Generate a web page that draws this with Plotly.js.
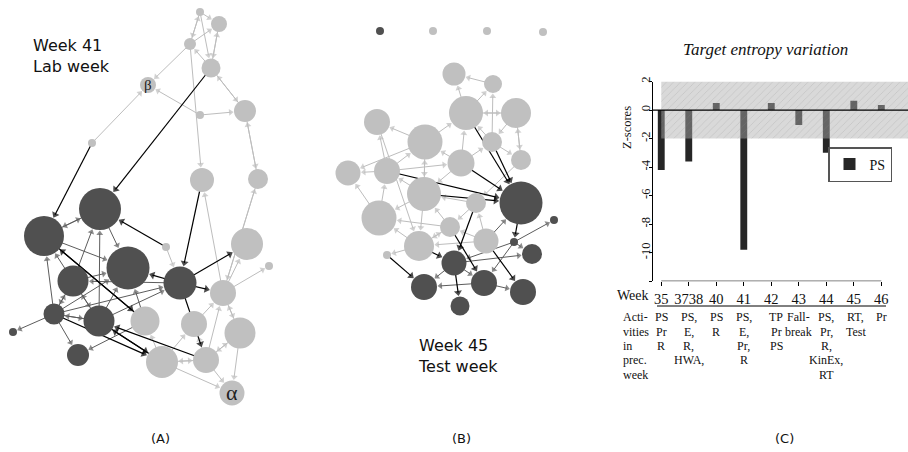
<!DOCTYPE html>
<html><head><meta charset="utf-8">
<script src="https://cdn.plot.ly/plotly-3.0.1.min.js"></script>
<style>html,body{margin:0;padding:0;background:#fff}#chart{width:908px;height:452px}</style>
</head><body><div id="chart"></div>
<script>
// ---------- Network A (week 41, lab week) ----------
const nodeNameA = ['a1','a2','a3','a4','beta','a6','a7','a8','a9','a10','a11','a12','a13','a14','a15','a16','a17','a18','a19','a20','a21','a22','a23','a24','a25','a26','a27','a28','alpha'];
const nodeXA    = [200,219,190,211,148,200,245,92,202,258,100,44,128,73,180,166,247,269,223,54,99,145,194,240,13,78,162,206,232];
const nodeYA    = [12,24,44,68,85,115,111,143,180,179,209,236,268,281,283,247,244,266,293,314,321,321,324,333,332,355,362,360,393];
const nodeRA    = [4,8,6,9.5,8,4,11,4,12,10,21,20,21.5,15.5,16.5,4,16,4,13,10.5,15.5,14.5,13,15.5,4,11,16,13,12.5];
const nodeGroupA= ['l','l','l','l','l','l','l','l','l','l','d','d','d','d','d','l','l','l','l','d','d','l','l','l','d','d','l','l','l'];

const edgeFromA = ['a1','a1','a3','a1','a2','a4','a3','a3','a4','a6','a6','a8','a7','a19','a19','a19','a23','a28','a19','a27','a27','a28','a28','a27','a28','a24','a19','a16','a28',
                   'a8','a4','a12','a16','a9','a15','a15','a15','a15','a20','a28','a27',
                   'a12','a12','a14','a21','a11','a20','a14','a20','a20','a20','a20','a22','a14','a20','a22','a15','a14','a21','a20','a21'];
const edgeToA   = ['a3','a2','a2','a4','a4','a3','beta','a9','a7','beta','a7','beta','a10','a10','a18','a17','a19','a19','a24','a23','a22','a27','a24','alpha','alpha','alpha','a9','a15','a23',
                   'a12','a11','a22','a11','a15','a17','a19','a13','a28','a27','a21','a21',
                   'a11','a13','a11','a11','a13','a12','a12','a14','a25','a21','a26','a26','a21','a13','a13','a14','a13','a15','a15','a13'];
const edgeKindA = ['l','l','l','l','l','l','l','l','l','l','l','l','l','l','l','l','l','l','l','l','l','l','l','l','l','l','l','l','l',
                   'k','k','k','k','k','k','k','k','k','k','k','k',
                   'g','g','g','g','g','g','g','g','g','g','g','g','g','g','g','g','g','g','g','g'];
const edgeBothA = [1,0,0,0,1,0,0,0,1,0,0,0,1,1,0,0,0,0,1,0,0,1,1,0,0,0,0,0,0,
                   0,0,1,0,0,0,0,0,0,0,0,1,
                   1,0,0,0,0,0,0,1,0,1,0,0,1,0,0,0,0,0,0,0];

// ---------- Network B (week 45, test week) ----------
const nodeNameB = ['t1','t2','t3','t4','b1','b2','b3','b4','b5','b6','b7','b8','b9','b10','b11','b12','b13','b14','b15','b16','b17','b18','b19','b20','b22','b23','b24','b25','b26','b27','b28'];
const nodeXB    = [380,433,487,543,454,493,377,466,516,425,492,461,521,348,387,424,476,521,554,379,450,419,486,514,387,454,532,424,484,523,460];
const nodeYB    = [31,31,31,32,74,84,122,113,113,142,142,163,160,173,171,194,203,203,220,218,227,246,241,242,255,263,254,287,283,292,306];
const nodeRB    = [4,4,4,4,11.5,9,13,17,15,17.5,10,13.5,10,12.5,13,17,10,21.5,4,17.5,10,15,12.5,4,4,12.5,10,13,13,13,9.5];
const nodeGroupB= ['d','l','l','l','l','l','l','l','l','l','l','l','l','l','l','l','l','d','d','l','l','l','l','d','l','d','d','d','d','d','d'];

const edgeFromB = ['b2','b4','b4','b4','b7','b6','b6','b11','b11','b6','b5','b7','b8','b6','b8','b11','b12','b13','b7','b8','b9','b16','b12','b17','b17','b18','b18','b17','b19','b13','b12','b3','b16','b19','b8','b5','b11','b19',
                   'b4','b7','b8','b11','b12','b22','b18','b17','b13','b19','b23','b14',
                   'b19','b20','b20','b20','b20','b23','b23','b26','b26','b23'];
const edgeToB   = ['b1','b1','b2','b5','b2','b3','b4','b3','b10','b10','b9','b4','b4','b12','b6','b6','b11','b12','b9','b7','b13','b10','b16','b12','b16','b16','b22','b18','b18','b17','b18','b18','b11','b13','b12','b7','b8','b17',
                   'b14','b14','b14','b14','b14','b25','b23','b26','b23','b27','b28','b20',
                   'b14','b15','b24','b23','b26','b24','b25','b25','b27','b26'];
const edgeKindB = ['l','l','l','l','l','l','l','l','l','l','l','l','l','l','l','l','l','l','l','l','l','l','l','l','l','l','l','l','l','l','l','l','l','l','l','l','l','l',
                   'k','k','k','k','k','k','k','k','k','k','k','k',
                   'g','g','g','g','g','g','g','g','g','g'];
const edgeBothB = [0,0,0,1,0,0,0,0,0,0,1,0,0,1,0,0,0,0,0,0,0,0,0,0,0,0,0,1,0,0,0,0,0,0,0,0,0,0,
                   0,0,0,0,0,0,0,0,0,0,0,0,
                   0,0,0,0,0,0,0,0,0,0];

// ---------- Panel C: target entropy variation ----------
const weeks = ['35','3738','40','41','42','43','44','45','46'];
const psZ   = [-4.2,-3.6,0.5,-9.8,0.5,-1.05,-3.0,0.65,0.35];
const activities = [['PS','Pr','R'],['PS,','E,','R,','HWA,'],['PS','R'],['PS,','E,','Pr,','R'],['TP','Pr','PS'],['Fall-','break'],['PS,','Pr,','R,','KinEx,','RT'],['RT,','Test'],['Pr']];
const rowHeader = ['Acti-','vities','in','prec.','week'];
const yTicks = [2,0,-2,-4,-6,-8,-10,-12];
const bandLimit = 2;

// ---------- styles ----------
const SERIF = 'Liberation Serif, Times New Roman, serif';
const SANS = 'DejaVu Sans, Verdana, sans-serif';
const NODECOL = {d:'#505050', l:'#c0c0c0'};
const EDGECOL = {l:'#bdbdbd', g:'#5c5c5c', k:'#000000'};
const EDGEW = {l:1, g:1, k:1.2};
const HEAD = {l:6, g:6, k:7};

const W = 908, H = 452;
const traces = [];

function edgeTraces(names, xs, ys, rs, eFrom, eTo, eKind, eBoth) {
  const out = {};
  ['l','g','k'].forEach(k => out[k] = {x:[], y:[], s:[]});
  function add(a, b, kind) {
    const i = names.indexOf(a), j = names.indexOf(b);
    const dx = xs[j]-xs[i], dy = ys[j]-ys[i];
    const L = Math.hypot(dx, dy);
    const ux = dx/L, uy = dy/L;
    const h = HEAD[kind];
    const back = rs[j] + h/2 + 0.5;
    const o = out[kind];
    o.x.push(xs[i], xs[j]-ux*back, null);
    o.y.push(ys[i], ys[j]-uy*back, null);
    o.s.push(0, h, 0);
  }
  eFrom.forEach((f, n) => {
    add(f, eTo[n], eKind[n]);
    if (eBoth[n]) add(eTo[n], f, eKind[n]);
  });
  return ['l','g','k'].map(k => ({
    type:'scatter', mode:'lines+markers', x:out[k].x, y:out[k].y,
    line:{color:EDGECOL[k], width:EDGEW[k]},
    marker:{symbol:'triangle-up', size:out[k].s, color:EDGECOL[k], angleref:'previous', line:{width:0}},
    connectgaps:false, hoverinfo:'skip', showlegend:false, xaxis:'x', yaxis:'y'
  }));
}
function nodeTrace(xs, ys, rs, groups) {
  return {type:'scatter', mode:'markers', x:xs, y:ys,
    marker:{size:rs.map(r=>2*r), color:groups.map(g=>NODECOL[g]), line:{width:0}, opacity:1},
    hoverinfo:'skip', showlegend:false, xaxis:'x', yaxis:'y'};
}

const eA = edgeTraces(nodeNameA, nodeXA, nodeYA, nodeRA, edgeFromA, edgeToA, edgeKindA, edgeBothA);
const eB = edgeTraces(nodeNameB, nodeXB, nodeYB, nodeRB, edgeFromB, edgeToB, edgeKindB, edgeBothB);
traces.push(...eA, ...eB, nodeTrace(nodeXA, nodeYA, nodeRA, nodeGroupA), nodeTrace(nodeXB, nodeYB, nodeRB, nodeGroupB));

// bars
traces.push({type:'bar', name:'PS', x:weeks.map((w,i)=>i), y:psZ, width:0.25,
  marker:{color:'#262626', line:{width:0}}, xaxis:'x2', yaxis:'y2', hoverinfo:'skip', showlegend:true});
// shaded band +-2
traces.push({type:'scatter', mode:'lines', x:[0,8.97,8.97,0,0], y:[-bandLimit,-bandLimit,bandLimit,bandLimit,-bandLimit],
  fill:'toself', fillcolor:'rgba(172,172,172,0.46)', line:{width:0},
  fillpattern:{shape:'/', bgcolor:'rgba(172,172,172,0.46)', fgcolor:'rgba(140,140,140,0.35)', size:5, solidity:0.12},
  xaxis:'x2', yaxis:'y2', hoverinfo:'skip', showlegend:false});

const annotations = [];
function paperAnn(text, x, y, opts) {
  annotations.push(Object.assign({text, x:x/W, y:1-y/H, xref:'paper', yref:'paper', showarrow:false,
    xanchor:'center', yanchor:'middle'}, opts));
}
// node labels
const ib = nodeNameA.indexOf('beta'), ia = nodeNameA.indexOf('alpha');
annotations.push({text:'β', x:nodeXA[ib], y:nodeYA[ib], xref:'x', yref:'y', showarrow:false, xanchor:'center', yanchor:'middle', font:{family:SERIF, size:15, color:'#222'}});
annotations.push({text:'α', x:nodeXA[ia], y:nodeYA[ia]-1, xref:'x', yref:'y', showarrow:false, xanchor:'center', yanchor:'middle', font:{family:SERIF, size:22, color:'#222'}});

paperAnn('Week 41<br>Lab week', 31, 56, {xanchor:'left', align:'left', font:{family:SANS, size:16, color:'#111'}});
paperAnn('Week 45<br>Test week', 416, 356, {xanchor:'left', align:'left', font:{family:SANS, size:16, color:'#111'}});
paperAnn('(A)', 160, 438, {font:{family:SANS, size:13, color:'#111'}});
paperAnn('(B)', 462, 438, {font:{family:SANS, size:13, color:'#111'}});
paperAnn('(C)', 784, 438, {font:{family:SANS, size:13, color:'#111'}});

paperAnn('<i>Target entropy variation</i>', 765, 49, {font:{family:SERIF, size:17, color:'#111'}});
paperAnn('Z-scores', 627, 128, {textangle:-90, font:{family:SERIF, size:12.5, color:'#111'}});
paperAnn('Week', 651, 295, {xanchor:'right', font:{family:SERIF, size:14, color:'#111'}});
const rowY = [317, 331.5, 345.5, 360, 374.5];
rowHeader.forEach((t, r) => paperAnn(t, 621, rowY[r], {xanchor:'left', font:{family:SERIF, size:12, color:'#111'}}));
activities.forEach((a, i) => {
  a.forEach((t, r) => {
    annotations.push({text:t, x:i, y:1-rowY[r]/H, xref:'x2', yref:'paper', xanchor:'center', yanchor:'middle',
      xshift: i===4 ? 5 : (i===7 ? 2 : 0), showarrow:false, font:{family:SERIF, size:12, color:'#111'}});
  });
});

const shapes = [
  {type:'line', xref:'x2', yref:'y2', x0:0, x1:8, y0:-12, y1:-12, line:{color:'#000', width:1}},
  {type:'line', xref:'x2 domain', yref:'y2', x0:0, x1:1, y0:0, y1:0, line:{color:'#000', width:1.2}, layer:'above'},
  {type:'line', xref:'paper', yref:'paper', x0:657/W, x1:886/W, y0:1-306/H, y1:1-306/H, line:{color:'#000', width:1}}
];

const layout = {
  width:W, height:H, margin:{l:0, r:0, t:0, b:0}, paper_bgcolor:'#fff', plot_bgcolor:'rgba(0,0,0,0)',
  showlegend:true,
  xaxis:{domain:[0,1], range:[0,W], visible:false, fixedrange:true},
  yaxis:{domain:[0,1], range:[H,0], visible:false, fixedrange:true},
  xaxis2:{domain:[653/W,1], range:[-0.3,8.97], anchor:'y2', tickvals:weeks.map((w,i)=>i), ticktext:weeks,
    ticks:'outside', ticklen:4, tickcolor:'#000', showline:false, showgrid:false, zeroline:false,
    tickfont:{family:SERIF, size:14.5, color:'#111'}},
  yaxis2:{domain:[1-281.2/H, 1-81.5/H], range:[-12,2], anchor:'x2', tickvals:yTicks,
    ticktext:yTicks.map(v => v===-12 ? '' : String(v)), tickangle:-90, ticks:'outside', ticklen:3, tickcolor:'#000',
    ticklabelstandoff:-6,
    showline:true, linecolor:'#000', linewidth:1, showgrid:false, zeroline:false,
    tickfont:{family:SERIF, size:12.5, color:'#111'}},
  legend:{x:828/W, y:1-147/H, xanchor:'left', yanchor:'top', bgcolor:'#fff', bordercolor:'#555', borderwidth:1.5,
    font:{family:SERIF, size:14, color:'#111'}, itemwidth:30, tracegroupgap:0},
  annotations, shapes
};
Plotly.newPlot('chart', traces, layout, {staticPlot:true, displayModeBar:false});
</script></body></html>
